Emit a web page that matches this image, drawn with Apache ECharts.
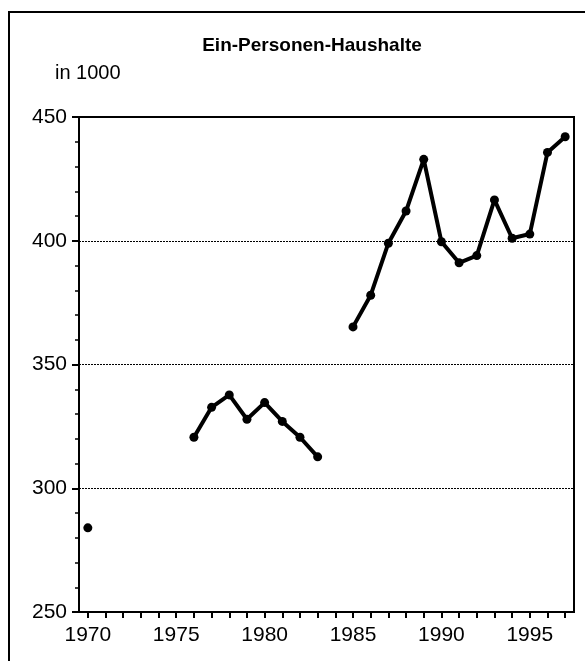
<!DOCTYPE html>
<html>
<head>
<meta charset="utf-8">
<script src="https://cdn.jsdelivr.net/npm/echarts@6/dist/echarts.min.js"></script>
<style>html,body{margin:0;padding:0;background:#fff}#c{width:585px;height:661px}</style>
</head>
<body>
<div id="c"></div>
<script>
const years = ['1970','1971','1972','1973','1974','1975','1976','1977','1978','1979','1980','1981','1982','1983','1984','1985','1986','1987','1988','1989','1990','1991','1992','1993','1994','1995','1996','1997'];
const households = [284, null, null, null, null, null, 320.6, 332.7, 337.7, 327.9, 334.6, 327, 320.6, 312.7, null, 365.2, 378, 399, 412, 432.9, 399.6, 391.1, 394, 416.5, 401, 402.7, 435.7, 442];
const yTicks = [250, 300, 350, 400, 450];
const titleText = 'Ein-Personen-Haushalte';
const unitText = 'in 1000';

const FONT = '"Liberation Sans", Arial, sans-serif';
const chart = echarts.init(document.getElementById('c'), null, {renderer: 'canvas'});
chart.setOption({
  animation: false,
  backgroundColor: '#fff',
  title: {
    text: titleText,
    left: 307, top: 31, textAlign: 'center',
    textStyle: {fontFamily: FONT, fontSize: 19, fontWeight: 'bold', color: '#000'}
  },
  graphic: [
    {type: 'rect', shape: {x: 9, y: 12, width: 700, height: 800}, style: {fill: null, stroke: '#000', lineWidth: 2}, silent: true},
    {type: 'text', left: 55, top: 63, style: {text: unitText, font: '20px ' + FONT, fill: '#000'}}
  ],
  grid: {left: 79, top: 117, right: 11, bottom: 49, show: true, borderColor: '#000', borderWidth: 2, backgroundColor: 'transparent'},
  xAxis: {
    type: 'category',
    data: years,
    boundaryGap: true,
    axisLine: {lineStyle: {color: '#000', width: 2}},
    axisTick: {show: true, alignWithLabel: true, interval: 0, length: 6, lineStyle: {color: '#000', width: 2}},
    axisLabel: {
      interval: function (i) { return i % 5 === 0; },
      color: '#000', fontFamily: FONT, fontSize: 21, margin: 13
    },
    splitLine: {show: false}
  },
  yAxis: {
    type: 'value',
    min: yTicks[0], max: yTicks[yTicks.length - 1], interval: 50,
    axisLine: {show: true, lineStyle: {color: '#000', width: 2}},
    axisTick: {show: true, length: 7, lineStyle: {color: '#000', width: 2}},
    minorTick: {show: true, splitNumber: 5, length: 4, lineStyle: {color: '#000', width: 1.5}},
    axisLabel: {color: '#000', fontFamily: FONT, fontSize: 21, margin: 12},
    splitLine: {show: true, lineStyle: {color: '#000', type: [2, 1], width: 1}}
  },
  series: [{
    type: 'line',
    data: households,
    connectNulls: false,
    symbol: 'circle',
    symbolSize: 9,
    showAllSymbol: true,
    lineStyle: {color: '#000', width: 4},
    itemStyle: {color: '#000'}
  }]
});
</script>
</body>
</html>
